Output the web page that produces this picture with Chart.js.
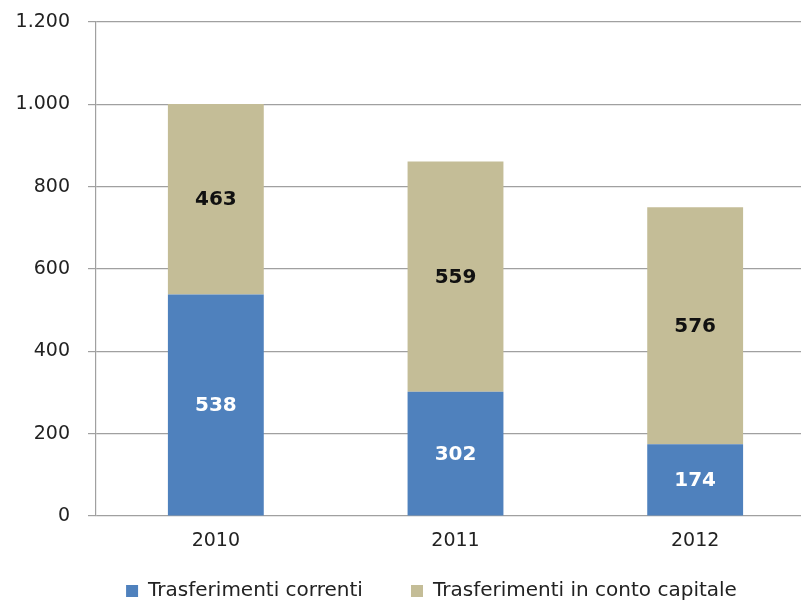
<!DOCTYPE html>
<html>
<head>
<meta charset="utf-8">
<script src="https://cdn.jsdelivr.net/npm/chart.js@4"></script>
<style>
  html, body { margin: 0; padding: 0; background: #fff; overflow: hidden; }
  #wrap { width: 815px; height: 611px; }
</style>
</head>
<body>
<div id="wrap"><canvas id="myChart"></canvas></div>
<script>
const years = ['2010', '2011', '2012'];
const correnti = [538, 302, 174];
const contoCapitale = [463, 559, 576];
const seriesNames = ['Trasferimenti correnti', 'Trasferimenti in conto capitale'];

// Italian thousands separator: 1200 -> 1.200
const fmt = v => String(v).replace(/\B(?=(\d{3})+(?!\d))/g, '.');

// Write the value in the middle of each bar segment
const barLabels = {
    id: 'barLabels',
    afterDatasetsDraw(chart) {
        const ctx = chart.ctx;
        ctx.save();
        ctx.font = 'bold 20px "DejaVu Sans"';
        ctx.textAlign = 'center';
        ctx.textBaseline = 'middle';
        chart.data.datasets.forEach((ds, i) => {
            const meta = chart.getDatasetMeta(i);
            ctx.fillStyle = i === 0 ? '#ffffff' : '#111111';
            meta.data.forEach((bar, j) => {
                ctx.fillText(fmt(ds.data[j]), bar.x, (bar.y + bar.base) / 2 + 1);
            });
        });
        ctx.restore();
    }
};

// Shift the legend so it is centred a bit to the right, like the original
const legendShift = {
    id: 'legendShift',
    afterLayout(chart) {
        if (chart.legend) chart.legend.left = 48;
    }
};

var ctx = document.getElementById('myChart').getContext('2d');

var myChart = new Chart(ctx, {
    type: 'bar',
    data: {
        labels: years,
        datasets: [{
            label: seriesNames[0],
            data: correnti,
            backgroundColor: '#4f81bd',
            barPercentage: 0.4,
            categoryPercentage: 1
        }, {
            label: seriesNames[1],
            data: contoCapitale,
            backgroundColor: '#c4bd97',
            barPercentage: 0.4,
            categoryPercentage: 1
        }]
    },
    options: {
        responsive: true,
        maintainAspectRatio: false,
        animation: false,
        layout: { padding: { top: 22, left: 0, right: 0, bottom: 0 } },
        scales: {
            x: {
                stacked: true,
                grid: { display: false },
                border: { display: false },
                ticks: { color: '#222', font: { family: 'DejaVu Sans', size: 19 }, padding: 6 },
                afterFit: scale => { scale.height = 55; }
            },
            y: {
                stacked: true,
                min: 0,
                max: 1200,
                ticks: {
                    stepSize: 200,
                    color: '#222',
                    padding: 18,
                    font: { family: 'DejaVu Sans', size: 19 },
                    callback: v => fmt(v)
                },
                grid: { color: '#a0a0a0', tickLength: 8, lineWidth: 1.2 },
                border: { color: '#a0a0a0', width: 1.2 },
                afterFit: scale => {
                    scale.width = 96;
                    scale.paddingTop = 0;
                    scale.paddingBottom = 0;
                }
            }
        },
        plugins: {
            legend: {
                position: 'bottom',
                labels: {
                    color: '#222',
                    boxWidth: 12,
                    boxHeight: 12,
                    padding: 10,
                    font: { family: 'DejaVu Sans', size: 20 },
                    // widen the gap between the two items like the original
                    generateLabels: chart => Chart.defaults.plugins.legend.labels.generateLabels(chart)
                        .map((item, i) => Object.assign(item, { text: i === 0 ? item.text + '      ' : item.text }))
                }
            },
            tooltip: { enabled: false }
        }
    },
    plugins: [barLabels, legendShift]
});
</script>
</body>
</html>
